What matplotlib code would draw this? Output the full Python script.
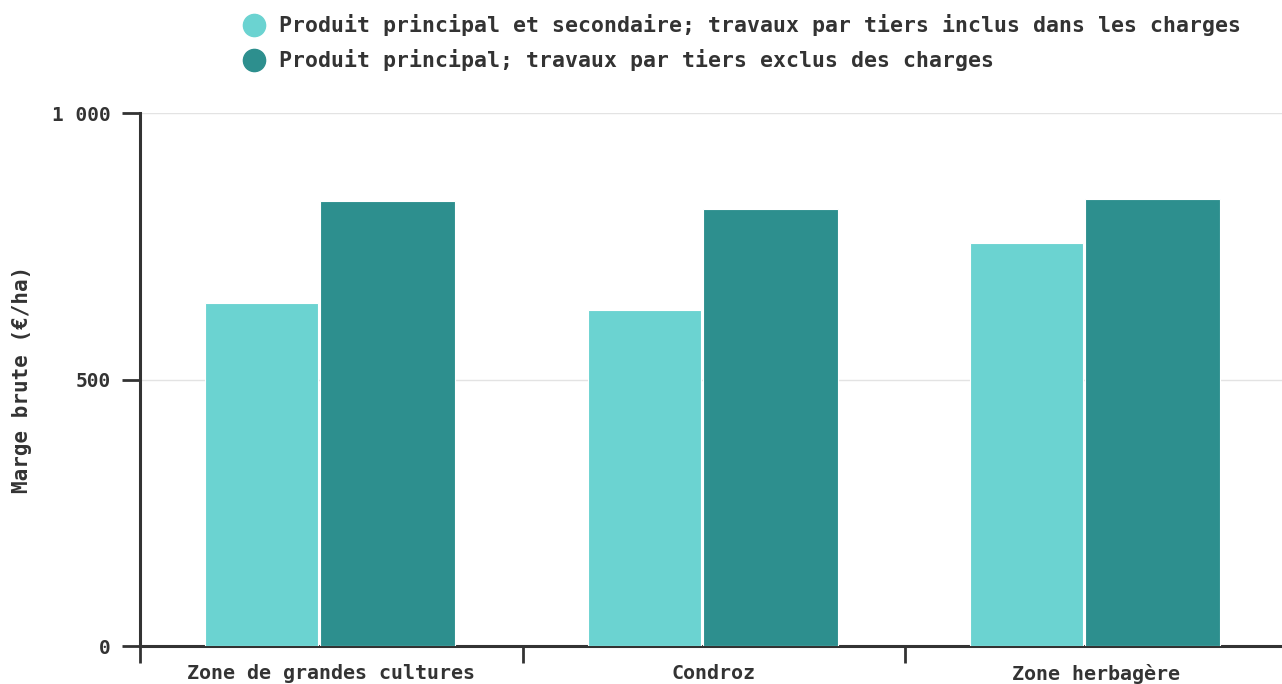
import matplotlib
matplotlib.use("Agg")
import matplotlib.pyplot as plt
from matplotlib.lines import Line2D
import numpy as np

categories = ["Zone de grandes cultures", "Condroz", "Zone herbagère"]
series_names = [
    "Produit principal et secondaire; travaux par tiers inclus dans les charges",
    "Produit principal; travaux par tiers exclus des charges",
]
values_incl = [644, 630, 757]
values_excl = [836, 820, 840]
yticks = [0, 500, 1000]
ytick_labels = ["0", "500", "1 000"]
ylabel = "Marge brute (€/ha)"

c_light = "#6bd3d1"
c_dark = "#2d8f8e"
txt = "#333333"

W, H = 1282, 684
fig = plt.figure(figsize=(W / 100, H / 100), dpi=100)
plt.rcParams["font.family"] = ["DejaVu Sans Mono", "DejaVu Sans"]
plt.rcParams["font.weight"] = "bold"

left_px, top_px, bottom_px = 140, 113.3, 646
cat_w = 382.5
ax = fig.add_axes([left_px / W, 1 - bottom_px / H, 1 - left_px / W, (bottom_px - top_px) / H])

x = np.arange(len(categories))
ax.bar(x - 0.3294, values_incl, width=0.2954, align="edge", color=c_light,
       edgecolor="white", linewidth=0.8, zorder=3)
ax.bar(x - 0.0288, values_excl, width=0.353, align="edge", color=c_dark,
       edgecolor="white", linewidth=0.8, zorder=3)

ax.set_yticks(yticks)
ax.set_yticklabels(ytick_labels, fontsize=14, fontweight="bold", color=txt)
ax.yaxis.grid(True, color="#e3e3e3", linewidth=1, zorder=0)
ax.set_axisbelow(True)

ax.set_xticks(np.arange(len(categories) + 1) - 0.5)
ax.set_xticklabels([])
ax.set_xticks(x, minor=True)
ax.set_xticklabels(categories, minor=True, fontsize=14.4, fontweight="bold", color=txt)
ax.tick_params(axis="x", which="major", length=12, width=2, color=txt)
ax.tick_params(axis="x", which="minor", length=0, pad=13)
ax.tick_params(axis="y", which="major", length=13, width=2, color=txt, pad=8)

ax.set_ylim(0, 1000)
ax.set_xlim(-0.5, (W - left_px) / cat_w - 0.5)

for s in ["top", "right"]:
    ax.spines[s].set_visible(False)
for s in ["left", "bottom"]:
    ax.spines[s].set_linewidth(2.2)
    ax.spines[s].set_color(txt)

ax.set_ylabel(ylabel, fontsize=15, fontweight="bold", color=txt)
ax.yaxis.set_label_coords(-(left_px - 32) / (W - left_px), 0.5)

# legend
for i, (name, col) in enumerate(zip(series_names, [c_light, c_dark])):
    yc = 1 - (25 + 35 * i) / H
    fig.add_artist(Line2D([254 / W], [yc], marker="o", markersize=16, color=col,
                          linestyle="", transform=fig.transFigure))
    fig.text(279 / W, yc, name, fontsize=15.5, fontweight="bold", color=txt,
             va="center", ha="left")

fig.savefig("out.png", dpi=100)
